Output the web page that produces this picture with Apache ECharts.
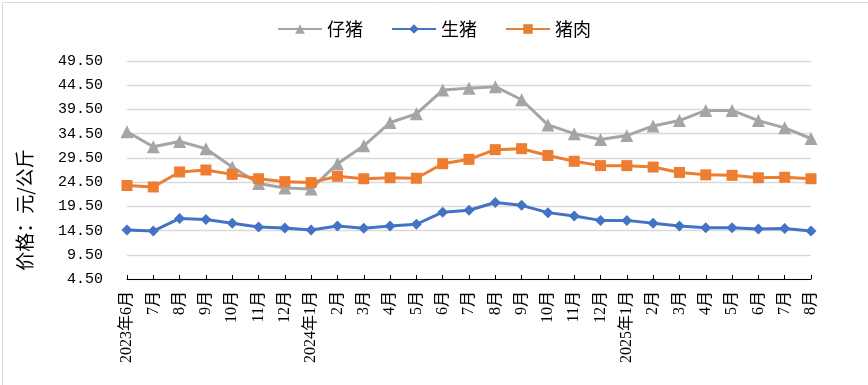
<!DOCTYPE html>
<html>
<head>
<meta charset="utf-8">
<script src="https://cdn.jsdelivr.net/npm/echarts@6/dist/echarts.min.js"></script>
<style>
html,body{margin:0;padding:0;background:#fff;}
#c{width:868px;height:385px;}
</style>
</head>
<body>
<div id="c"></div>
<script>
const categories = ['2023年6月','7月','8月','9月','10月','11月','12月','2024年1月','2月','3月','4月','5月','6月','7月','8月','9月','10月','11月','12月','2025年1月','2月','3月','4月','5月','6月','7月','8月'];
const piglet = [34.9,31.8,32.9,31.4,27.6,24.2,23.3,23.1,28.3,32.0,36.8,38.6,43.5,43.9,44.2,41.5,36.3,34.5,33.3,34.1,36.1,37.2,39.3,39.3,37.2,35.7,33.5];
const hog = [14.6,14.4,17.0,16.8,16.0,15.25,15.05,14.6,15.45,15.0,15.45,15.8,18.3,18.7,20.3,19.7,18.2,17.5,16.6,16.6,16.0,15.45,15.1,15.1,14.8,14.9,14.4];
const pork = [23.8,23.5,26.6,27.0,26.1,25.2,24.6,24.4,25.7,25.2,25.4,25.3,28.3,29.2,31.2,31.4,30.0,28.8,27.9,27.9,27.6,26.5,26.0,25.9,25.4,25.5,25.2];
const seriesNames = ['仔猪','生猪','猪肉'];
const yTicks = {min:4.5, max:49.5, interval:5};
const yName = '价格：元/公斤';

const chart = echarts.init(document.getElementById('c'), null, {renderer:'canvas'});
const cjk = "'Noto Sans CJK SC', sans-serif";
function mk(name, data, color, symbol, size){
  return {
    name, type:'line', data, symbol, symbolSize:size,
    lineStyle:{color, width:3}, itemStyle:{color},
    showAllSymbol:true, animation:false, z: 3
  };
}
chart.setOption({
  animation:false,
  backgroundColor:'#fff',
  graphic:[
    {type:'rect', left:0, top:0, shape:{x:0,y:0,width:867,height:384}, style:{fill:'none', stroke:'#d9d9d9', lineWidth:1}, silent:true},
    {type:'text', x:25, y:210, rotation:Math.PI/2, style:{text:yName, font:"19px 'Noto Sans CJK SC'", fill:'#000', align:'center', verticalAlign:'middle'}}
  ],
  legend:{
    top:15, left:'center', itemWidth:44, itemHeight:12, itemGap:28,
    textStyle:{fontSize:18, fontFamily:cjk, color:'#000'},
    data:seriesNames
  },
  grid:{left:127, right:57, top:61, bottom:106, containLabel:false},
  xAxis:{
    type:'category', data:categories, boundaryGap:false,
    axisLine:{lineStyle:{color:'#000', width:1}},
    axisTick:{inside:true, length:4, lineStyle:{color:'#000'}, alignWithLabel:true},
    axisLabel:{rotate:90, interval:0, margin:12, fontSize:16, fontFamily:"'Liberation Serif','Noto Sans CJK SC'", color:'#000'},
    splitLine:{show:false}
  },
  yAxis:{
    type:'value', min:yTicks.min, max:yTicks.max, interval:yTicks.interval,
    axisLine:{show:false}, axisTick:{show:false},
    axisLabel:{formatter:v=>v.toFixed(2), fontSize:15, fontFamily:"'Liberation Mono', monospace", color:'#000', margin:24},
    splitLine:{lineStyle:{color:'#d9d9d9', width:1.3}}
  },
  series:[
    mk(seriesNames[0], piglet, '#A5A5A5', 'triangle', 13),
    mk(seriesNames[1], hog, '#4472C4', 'diamond', 11),
    mk(seriesNames[2], pork, '#ED7D31', 'rect', 11)
  ]
});
</script>
</body>
</html>
